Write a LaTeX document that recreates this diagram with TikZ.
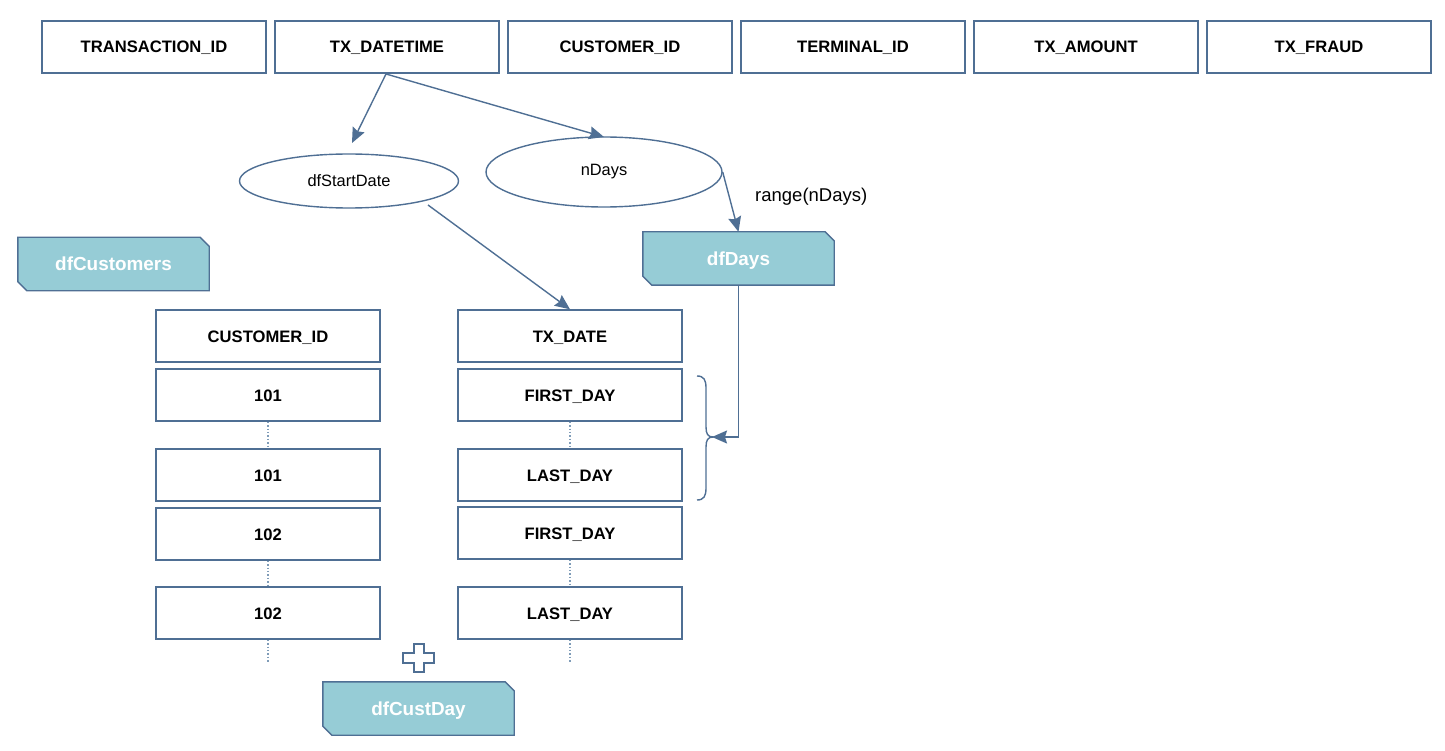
\documentclass[tikz,border=0pt]{standalone}
\usepackage{fontspec}
\setmainfont{Liberation Sans}
\usetikzlibrary{arrows.meta,shapes.geometric}
\definecolor{edge}{HTML}{4F6F94}
\definecolor{tagfill}{HTML}{96CCD6}
\definecolor{dotc}{HTML}{7F9CB8}
\begin{document}
\begin{tikzpicture}[x=1pt,y=-1pt,
  cell/.style={draw=edge,line width=1.4pt,fill=white,minimum width=224pt,minimum height=52pt,inner sep=0pt,text height=12pt,text depth=0pt,font=\fontsize{16.6}{19}\selectfont\bfseries},
  oval/.style={draw=edge,line width=1.4pt,ellipse,inner sep=0pt,font=\fontsize{16.4}{19}\selectfont},
  tagtext/.style={minimum width=191pt,minimum height=53pt,inner sep=0pt,text=white,text height=13.6pt,text depth=0pt,font=\fontsize{18.9}{22}\selectfont\bfseries},
  conn/.style={draw=edge,line width=1.4pt,-{Stealth[length=15pt,width=13pt,inset=2pt]}},
  dots/.style={draw=dotc,line width=1.4pt,dotted}
]
\useasboundingbox (0,0) rectangle (1445,751);
% top header cells
\node[cell] (h1) at (154,47) {TRANSACTION\_ID};
\node[cell] (h2) at (387,47) {TX\_DATETIME};
\node[cell] (h3) at (620,47) {CUSTOMER\_ID};
\node[cell] (h4) at (853,47) {TERMINAL\_ID};
\node[cell] (h5) at (1086,47) {TX\_AMOUNT};
\node[cell] (h6) at (1319,47) {TX\_FRAUD};
% ellipses
\node[oval,minimum width=219pt,minimum height=54pt] (sd) at (349,181) {dfStartDate};
\node[oval,minimum width=236pt,minimum height=70pt] (nd) at (604,172) {nDays};
% tags
\newcommand{\tagbox}[1]{%
  \draw[edge,fill=tagfill,line width=1.4pt] (#1.north west) -- ([xshift=-9pt]#1.north east) -- ([yshift=-9pt]#1.north east) -- (#1.south east) -- ([xshift=9pt]#1.south west) -- ([yshift=9pt]#1.south west) -- cycle;}
\node[tagtext] (cust) at (113.5,264) {};
\node[tagtext] (days) at (738.5,258.5) {};
\node[tagtext] (cd) at (418.5,708.5) {};
\tagbox{cust}\tagbox{days}\tagbox{cd}
\node[tagtext] at (cust) {dfCustomers};
\node[tagtext] at (days) {dfDays};
\node[tagtext] at (cd) {dfCustDay};
% left column
\node[cell] (c0) at (268,336) {CUSTOMER\_ID};
\node[cell] (c1) at (268,395) {101};
\node[cell] (c2) at (268,475) {101};
\node[cell] (c3) at (268,534) {102};
\node[cell] (c4) at (268,613) {102};
\coordinate (cend) at (268,662);
% right column
\node[cell] (d0) at (570,336) {TX\_DATE};
\node[cell] (d1) at (570,395) {FIRST\_DAY};
\node[cell] (d2) at (570,475) {LAST\_DAY};
\node[cell] (d3) at (570,533) {FIRST\_DAY};
\node[cell] (d4) at (570,613) {LAST\_DAY};
\coordinate (dend) at (570,662);
% dotted continuations
\draw[dots] (c1.south) -- (c2.north);
\draw[dots] (c3.south) -- (c4.north);
\draw[dots] (c4.south) -- (cend);
\draw[dots] (d1.south) -- (d2.north);
\draw[dots] (d3.south) -- (d4.north);
\draw[dots] (d4.south) -- (dend);
% arrows
\coordinate (src) at (386,74);
\draw[conn] (src) -- (352,143);
\draw[conn] (src) -- (604,137);
\draw[conn] (nd.east) -- (days.north);
\draw[conn] (428,205) -- (d0.north);
\node[font=\fontsize{18.5}{22}\selectfont,anchor=west,inner sep=0pt] (rng) at (755,197) {range(nDays)};
% brace
\coordinate (btop) at (697,376);
\coordinate (bbot) at (697,500);
\draw[edge,line width=1.4pt] (btop) .. controls (704,376) and (706,380) .. (706,388) -- (706,427) .. controls (706,434) and (708,437) .. (713,437) .. controls (708,437) and (706,440) .. (706,447) -- (706,488) .. controls (706,496) and (704,500) .. (bbot);
\coordinate (btip) at (712,437);
\draw[conn] (days.south) |- (btip);
% plus sign
\draw[edge,line width=1.4pt,fill=white] (414,644) -- (424,644) -- (424,653) -- (434,653) -- (434,663) -- (424,663) -- (424,672) -- (414,672) -- (414,663) -- (403,663) -- (403,653) -- (414,653) -- cycle;
\end{tikzpicture}
\end{document}
